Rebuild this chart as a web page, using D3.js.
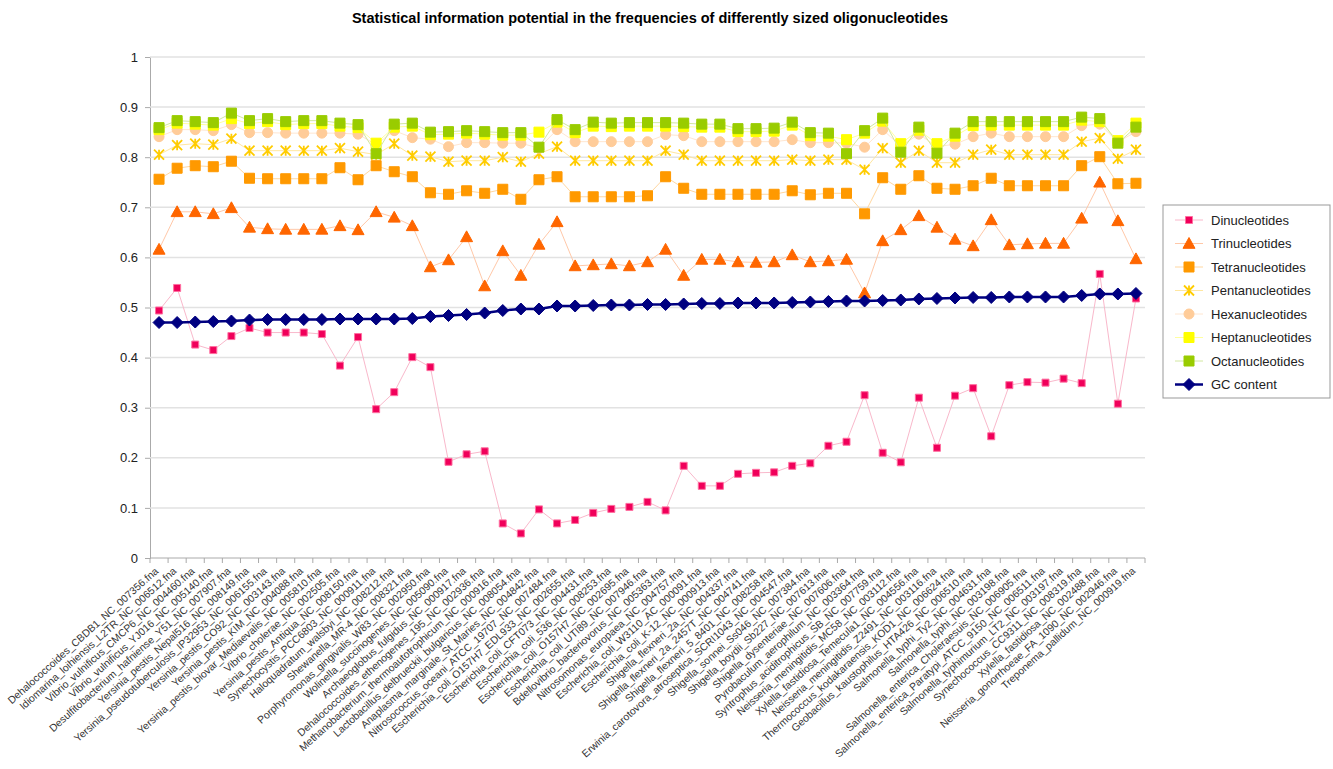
<!DOCTYPE html>
<html>
<head>
<meta charset="utf-8">
<script src="https://cdn.jsdelivr.net/npm/d3@7"></script>
<style>
  body { margin: 0; background: #fff; }
  svg { font-family: "Liberation Sans", Arial, sans-serif; }
</style>
</head>
<body>
<svg id="chart" width="1333" height="769"></svg>
<script>
const categories = [
  "Dehalococcoides_CBDB1_NC_007356.fna", "Idiomarina_loihiensis_L2TR_NC_006512.fna",
  "Vibrio_vulnificus_CMCP6_NC_004460.fna", "Vibrio_vulnificus_YJ016_NC_005140.fna",
  "Desulfitobacterium_hafniense_Y51_NC_007907.fna", "Yersinia_pestis_Nepal516_NC_008149.fna",
  "Yersinia_pseudotuberculosis_IP32953_NC_006155.fna", "Yersinia_pestis_CO92_NC_003143.fna",
  "Yersinia_pestis_KIM_NC_004088.fna", "Yersinia_pestis_biovar_Mediaevalis_NC_005810.fna",
  "Vibrio_cholerae_NC_002505.fna", "Yersinia_pestis_Antiqua_NC_008150.fna",
  "Synechocystis_PCC6803_NC_000911.fna", "Haloquadratum_walsbyi_NC_008212.fna",
  "Shewanella_MR-4_NC_008321.fna", "Porphyromonas_gingivalis_W83_NC_002950.fna",
  "Wolinella_succinogenes_NC_005090.fna", "Archaeoglobus_fulgidus_NC_000917.fna",
  "Dehalococcoides_ethenogenes_195_NC_002936.fna", "Methanobacterium_thermoautotrophicum_NC_000916.fna",
  "Lactobacillus_delbrueckii_bulgaricus_NC_008054.fna", "Anaplasma_marginale_St_Maries_NC_004842.fna",
  "Nitrosococcus_oceani_ATCC_19707_NC_007484.fna", "Escherichia_coli_O157H7_EDL933_NC_002655.fna",
  "Escherichia_coli_CFT073_NC_004431.fna", "Escherichia_coli_536_NC_008253.fna",
  "Escherichia_coli_O157H7_NC_002695.fna", "Escherichia_coli_UTI89_NC_007946.fna",
  "Bdellovibrio_bacteriovorus_NC_005363.fna", "Nitrosomonas_europaea_NC_004757.fna",
  "Escherichia_coli_W3110_AC_000091.fna", "Escherichia_coli_K-12_NC_000913.fna",
  "Shigella_flexneri_2a_NC_004337.fna", "Shigella_flexneri_2a_2457T_NC_004741.fna",
  "Shigella_flexneri_5_8401_NC_008258.fna", "Erwinia_carotovora_atroseptica_SCRI1043_NC_004547.fna",
  "Shigella_sonnei_Ss046_NC_007384.fna", "Shigella_boydii_Sb227_NC_007613.fna",
  "Shigella_dysenteriae_NC_007606.fna", "Pyrobaculum_aerophilum_NC_003364.fna",
  "Syntrophus_aciditrophicus_SB_NC_007759.fna", "Neisseria_meningitidis_MC58_NC_003112.fna",
  "Xylella_fastidiosa_Temecula1_NC_004556.fna", "Neisseria_meningitidis_Z2491_NC_003116.fna",
  "Thermococcus_kodakaraensis_KOD1_NC_006624.fna", "Geobacillus_kaustophilus_HTA426_NC_006510.fna",
  "Salmonella_typhi_Ty2_NC_004631.fna", "Salmonella_typhi_NC_003198.fna",
  "Salmonella_enterica_Choleraesuis_NC_006905.fna", "Salmonella_enterica_Paratypi_ATCC_9150_NC_006511.fna",
  "Salmonella_typhimurium_LT2_NC_003197.fna", "Synechococcus_CC9311_NC_008319.fna",
  "Xylella_fastidiosa_NC_002488.fna", "Neisseria_gonorrhoeae_FA_1090_NC_002946.fna",
  "Treponema_pallidum_NC_000919.fna"
];

const dinucleotides = [0.494, 0.539, 0.426, 0.415, 0.443, 0.459, 0.450, 0.450, 0.450, 0.447,
  0.384, 0.441, 0.297, 0.331, 0.401, 0.381, 0.192, 0.207, 0.213, 0.069,
  0.049, 0.097, 0.069, 0.076, 0.090, 0.098, 0.102, 0.112, 0.095, 0.184,
  0.144, 0.144, 0.168, 0.170, 0.171, 0.184, 0.189, 0.224, 0.232, 0.325,
  0.210, 0.191, 0.320, 0.220, 0.324, 0.339, 0.243, 0.345, 0.351, 0.350,
  0.358, 0.349, 0.567, 0.308, 0.518];

const trinucleotides = [0.616, 0.691, 0.691, 0.687, 0.699, 0.660, 0.657, 0.656, 0.656, 0.656,
  0.663, 0.655, 0.691, 0.680, 0.663, 0.581, 0.595, 0.641, 0.543, 0.613,
  0.564, 0.626, 0.671, 0.583, 0.585, 0.587, 0.583, 0.591, 0.616, 0.564,
  0.596, 0.596, 0.591, 0.590, 0.591, 0.605, 0.591, 0.593, 0.596, 0.529,
  0.633, 0.655, 0.683, 0.660, 0.636, 0.623, 0.675, 0.625, 0.627, 0.628,
  0.628, 0.678, 0.750, 0.673, 0.597];

const tetranucleotides = [0.756, 0.778, 0.783, 0.781, 0.792, 0.758, 0.757, 0.757, 0.757, 0.757,
  0.779, 0.755, 0.783, 0.771, 0.761, 0.729, 0.726, 0.733, 0.728, 0.736,
  0.716, 0.755, 0.761, 0.721, 0.721, 0.721, 0.721, 0.723, 0.761, 0.738,
  0.726, 0.726, 0.726, 0.726, 0.726, 0.733, 0.725, 0.728, 0.728, 0.687,
  0.759, 0.736, 0.763, 0.738, 0.736, 0.743, 0.758, 0.743, 0.743, 0.743,
  0.743, 0.783, 0.801, 0.747, 0.748];

const pentanucleotides = [0.805, 0.824, 0.827, 0.825, 0.837, 0.813, 0.813, 0.813, 0.813, 0.813,
  0.818, 0.811, 0.805, 0.827, 0.803, 0.801, 0.791, 0.793, 0.793, 0.800,
  0.791, 0.807, 0.821, 0.793, 0.793, 0.793, 0.793, 0.793, 0.813, 0.805,
  0.793, 0.793, 0.793, 0.793, 0.793, 0.795, 0.793, 0.795, 0.795, 0.775,
  0.818, 0.789, 0.813, 0.789, 0.789, 0.805, 0.815, 0.805, 0.805, 0.805,
  0.805, 0.831, 0.838, 0.797, 0.815];

const hexanucleotides = [0.841, 0.855, 0.855, 0.853, 0.865, 0.849, 0.849, 0.848, 0.848, 0.848,
  0.848, 0.846, 0.825, 0.853, 0.839, 0.836, 0.821, 0.829, 0.829, 0.828,
  0.828, 0.818, 0.855, 0.831, 0.831, 0.831, 0.831, 0.831, 0.845, 0.843,
  0.831, 0.831, 0.831, 0.831, 0.831, 0.835, 0.829, 0.829, 0.828, 0.820,
  0.855, 0.822, 0.846, 0.821, 0.826, 0.841, 0.848, 0.841, 0.841, 0.841,
  0.841, 0.863, 0.866, 0.830, 0.851];

const heptanucleotides = [0.855, 0.868, 0.866, 0.864, 0.877, 0.867, 0.871, 0.865, 0.867, 0.867,
  0.862, 0.859, 0.828, 0.860, 0.862, 0.845, 0.846, 0.848, 0.846, 0.844,
  0.844, 0.850, 0.870, 0.849, 0.862, 0.861, 0.862, 0.862, 0.862, 0.861,
  0.860, 0.860, 0.851, 0.851, 0.852, 0.864, 0.843, 0.842, 0.835, 0.848,
  0.872, 0.827, 0.854, 0.827, 0.842, 0.863, 0.864, 0.864, 0.864, 0.864,
  0.864, 0.874, 0.871, 0.833, 0.868];

const octanucleotides = [0.859, 0.873, 0.871, 0.869, 0.888, 0.873, 0.877, 0.871, 0.873, 0.873,
  0.868, 0.865, 0.807, 0.866, 0.868, 0.850, 0.851, 0.853, 0.851, 0.849,
  0.849, 0.820, 0.875, 0.855, 0.870, 0.868, 0.869, 0.869, 0.869, 0.868,
  0.866, 0.866, 0.857, 0.857, 0.858, 0.870, 0.849, 0.848, 0.807, 0.853,
  0.878, 0.810, 0.860, 0.808, 0.848, 0.871, 0.871, 0.871, 0.871, 0.871,
  0.871, 0.880, 0.877, 0.828, 0.860];

const gcContent = [0.470, 0.470, 0.471, 0.472, 0.473, 0.475, 0.476, 0.476, 0.476, 0.476,
  0.477, 0.477, 0.477, 0.477, 0.478, 0.482, 0.484, 0.486, 0.489, 0.494,
  0.497, 0.497, 0.503, 0.503, 0.504, 0.505, 0.505, 0.506, 0.506, 0.507,
  0.508, 0.508, 0.509, 0.509, 0.509, 0.510, 0.511, 0.512, 0.513, 0.513,
  0.514, 0.515, 0.517, 0.518, 0.519, 0.520, 0.520, 0.521, 0.521, 0.521,
  0.521, 0.524, 0.527, 0.527, 0.528];

const yTicks = [0, 0.1, 0.2, 0.3, 0.4, 0.5, 0.6, 0.7, 0.8, 0.9, 1];

// series in the order excel draws them (later ones sit on top)
const series = [
  { name: "Dinucleotides", values: dinucleotides, marker: "square", size: 7, fill: "#F0005A", stroke: "#FF6FA0", line: "#F9B8CB", width: 1 },
  { name: "Trinucleotides", values: trinucleotides, marker: "triangle", size: 12, fill: "#FF6600", stroke: "#FF6600", line: "#FFC8A8", width: 1 },
  { name: "Tetranucleotides", values: tetranucleotides, marker: "square", size: 10, fill: "#FF9900", stroke: "#FF9900", line: "#FFD7A0", width: 1 },
  { name: "Pentanucleotides", values: pentanucleotides, marker: "star", size: 10, fill: "none", stroke: "#FFCC00", line: "#FFE7A0", width: 1 },
  { name: "Hexanucleotides", values: hexanucleotides, marker: "circle", size: 10, fill: "#FFCC99", stroke: "#FFCC99", line: "#FFE6D0", width: 1 },
  { name: "Heptanucleotides", values: heptanucleotides, marker: "square", size: 10, fill: "#FFFF00", stroke: "#FFFF00", line: "#FFFFA0", width: 1 },
  { name: "Octanucleotides", values: octanucleotides, marker: "square", size: 10, fill: "#99CC00", stroke: "#99CC00", line: "#D2E8A0", width: 1 },
  { name: "GC content", values: gcContent, marker: "diamond", size: 10, fill: "#000080", stroke: "#000080", line: "#000080", width: 2.5 }
];

const svg = d3.select('#chart');
const plotLeft = 150, plotRight = 1145, plotTop = 57, plotBottom = 558;

const x = d3.scaleBand()
  .domain(d3.range(categories.length))
  .range([plotLeft, plotRight]);

const y = d3.scaleLinear()
  .domain([0, 1])
  .range([plotBottom, plotTop]);

const cx = i => x(i) + x.bandwidth() / 2;

// title
svg.append('text')
  .attr('x', 650)
  .attr('y', 23)
  .attr('text-anchor', 'middle')
  .attr('font-size', 14.5)
  .attr('font-weight', 'bold')
  .text('Statistical information potential in the frequencies of differently sized oligonucleotides');

// gridlines + y axis
const yAxis = svg.append('g')
  .attr('transform', `translate(${plotLeft},0)`)
  .call(d3.axisLeft(y).tickValues(yTicks).tickSize(5).tickFormat(d3.format('~g')));
yAxis.select('.domain').attr('stroke', '#aaa');
yAxis.selectAll('.tick line').attr('stroke', '#aaa');
yAxis.selectAll('.tick text').attr('font-size', 13).attr('fill', '#222').attr('x', -12);

svg.append('g')
  .selectAll('line')
  .data(yTicks.filter(d => d > 0))
  .join('line')
  .attr('x1', plotLeft)
  .attr('x2', plotRight)
  .attr('y1', d => y(d))
  .attr('y2', d => y(d))
  .attr('stroke', '#e2e2e2')
  .attr('stroke-width', 1.5);

// x axis: ticks between categories, labels rotated
const xAxis = svg.append('g')
  .attr('transform', `translate(0,${plotBottom})`);
xAxis.append('line')
  .attr('x1', plotLeft).attr('x2', plotRight)
  .attr('stroke', '#aaa');
xAxis.selectAll('.sep')
  .data(d3.range(categories.length + 1))
  .join('line')
  .attr('class', 'sep')
  .attr('x1', i => plotLeft + i * x.bandwidth())
  .attr('x2', i => plotLeft + i * x.bandwidth())
  .attr('y1', 0).attr('y2', 5)
  .attr('stroke', '#aaa');
xAxis.selectAll('text')
  .data(categories)
  .join('text')
  .attr('transform', (d, i) => `translate(${cx(i)},14) rotate(-42)`)
  .attr('text-anchor', 'end')
  .attr('font-size', 10.4)
  .attr('fill', '#333')
  .text(d => d);

// marker shapes
function markerPath(type, size) {
  const h = size / 2;
  if (type === 'square') return `M${-h},${-h}H${h}V${h}H${-h}Z`;
  if (type === 'diamond') return `M0,${-h - 1}L${h + 1},0L0,${h + 1}L${-h - 1},0Z`;
  if (type === 'triangle') return `M0,${-h}L${h},${h * 0.8}L${-h},${h * 0.8}Z`;
  if (type === 'star') return `M${-h},${-h}L${h},${h}M${-h},${h}L${h},${-h}M0,${-h}V${h}`;
  if (type === 'circle') return d3.symbol(d3.symbolCircle, Math.PI * h * h)();
  return '';
}

const line = d3.line()
  .x((d, i) => cx(i))
  .y(d => y(d));

series.forEach(function(s) {
  const g = svg.append('g');
  g.append('path')
    .attr('d', line(s.values))
    .attr('fill', 'none')
    .attr('stroke', s.line)
    .attr('stroke-width', s.width);

  g.selectAll('path.mark')
    .data(s.values)
    .join('path')
    .attr('class', 'mark')
    .attr('transform', (d, i) => `translate(${cx(i)},${y(d)})`)
    .attr('d', markerPath(s.marker, s.size))
    .attr('fill', s.fill)
    .attr('stroke', s.stroke)
    .attr('stroke-width', s.marker === 'star' ? 1.8 : 1);
});

// legend
const legend = svg.append('g').attr('transform', 'translate(1163,205)');
legend.append('rect')
  .attr('width', 167)
  .attr('height', 193)
  .attr('fill', '#fff')
  .attr('stroke', '#999');

series.forEach(function(s, idx) {
  const ly = 15 + idx * 23.5;
  legend.append('line')
    .attr('x1', 12).attr('x2', 40)
    .attr('y1', ly).attr('y2', ly)
    .attr('stroke', s.line)
    .attr('stroke-width', s.width);
  legend.append('path')
    .attr('transform', `translate(26,${ly})`)
    .attr('d', markerPath(s.marker, s.size))
    .attr('fill', s.fill)
    .attr('stroke', s.stroke)
    .attr('stroke-width', s.marker === 'star' ? 1.8 : 1);
  legend.append('text')
    .attr('x', 48)
    .attr('y', ly + 4.5)
    .attr('font-size', 13)
    .attr('fill', '#222')
    .text(s.name);
});
</script>
</body>
</html>
